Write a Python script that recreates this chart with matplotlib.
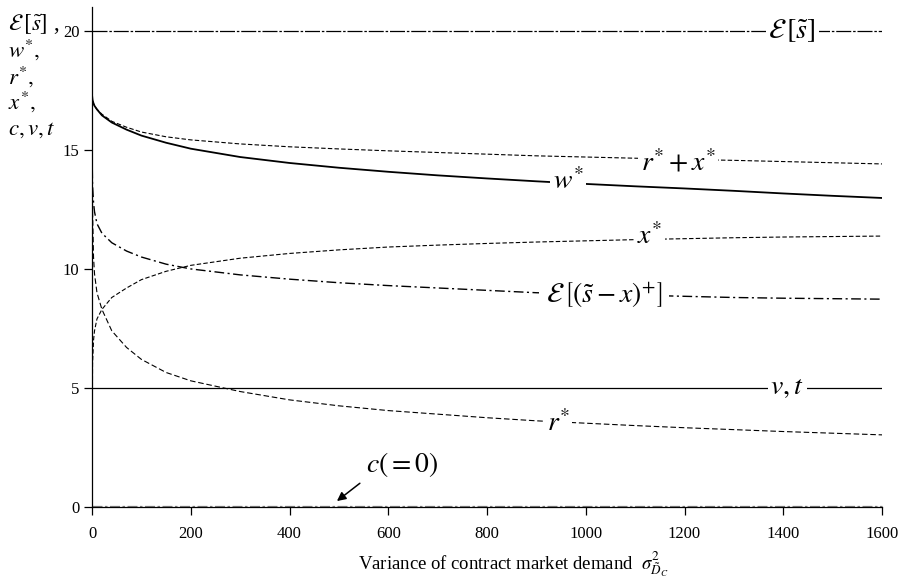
import matplotlib
matplotlib.use("Agg")
import matplotlib.pyplot as plt

plt.rcParams["font.family"] = ["Liberation Serif", "DejaVu Serif"]
plt.rcParams["mathtext.fontset"] = "stix"

# variance of contract market demand
variance = [0, 1, 3, 5, 10, 20, 40, 70, 100, 150, 200, 300, 400, 500, 600,
            700, 800, 900, 1000, 1100, 1200, 1300, 1400, 1500, 1600]

w_star = [17.3, 17.1, 16.95, 16.85, 16.7, 16.45, 16.15, 15.85, 15.6, 15.3, 15.05, 14.7,
          14.45, 14.25, 14.08, 13.93, 13.8, 13.68, 13.57, 13.47, 13.38, 13.28, 13.17,
          13.07, 12.98]
x_star = [0.0, 6.0, 7.0, 7.4, 7.9, 8.3, 8.8, 9.2, 9.55, 9.9, 10.15, 10.45, 10.65, 10.8,
          10.92, 11.0, 11.07, 11.13, 11.18, 11.23, 11.27, 11.31, 11.34, 11.36, 11.38]
r_star = [17.3, 12.5, 10.5, 9.8, 9.0, 8.3, 7.4, 6.7, 6.2, 5.65, 5.3, 4.85, 4.5, 4.25,
          4.05, 3.9, 3.75, 3.62, 3.52, 3.42, 3.33, 3.25, 3.17, 3.1, 3.03]
r_plus_x = [17.3, 17.1, 16.95, 16.85, 16.7, 16.5, 16.2, 15.95, 15.75, 15.55, 15.42, 15.25,
            15.13, 15.04, 14.96, 14.89, 14.82, 14.75, 14.7, 14.65, 14.6, 14.56, 14.51,
            14.46, 14.41]
exp_short = [15.0, 13.5, 12.8, 12.4, 11.9, 11.5, 11.1, 10.75, 10.5, 10.2, 10.0, 9.75,
             9.57, 9.42, 9.3, 9.2, 9.1, 9.0, 8.95, 8.9, 8.85, 8.8, 8.77, 8.75, 8.73]

exp_s = 20
v_t = 5
c_val = 0

fig = plt.figure(figsize=(9.05, 5.86), dpi=100)
ax = fig.add_axes([0.1017, 0.1348, 0.8729, 0.8532])

lab_fs = 20
box = dict(facecolor="white", edgecolor="none", pad=2)

# constant lines
ax.plot([0, 1600], [exp_s, exp_s], color="black", lw=0.9, dashes=(12, 1.5, 2, 1.5))
ax.plot([0, 1600], [v_t, v_t], color="black", lw=0.9)
ax.plot([0, 1600], [c_val + 0.05, c_val + 0.05], color="gray", lw=0.9,
        dashes=(8, 2, 2, 2), clip_on=False)

# curves
ax.plot(variance, r_plus_x, color="black", lw=0.8, dashes=(4, 2))
ax.plot(variance, w_star, color="black", lw=1.3)
ax.plot(variance, x_star, color="black", lw=0.8, dashes=(4, 2))
ax.plot(variance, exp_short, color="black", lw=1.0, dashes=(7, 2.5, 1.5, 2.5))
ax.plot(variance, r_star, color="black", lw=0.8, dashes=(5, 2.5))

# curve labels (white box cuts the line like in the original)
ax.text(1418, 20, r"$\mathcal{E}\,[\tilde{s}]$", fontsize=lab_fs, ha="center", va="center", bbox=box)
ax.text(1187, 14.45, r"$r^{*}+x^{*}$", fontsize=lab_fs, ha="center", va="center", bbox=box)
ax.text(964, 13.66, r"$w^{*}$", fontsize=lab_fs, ha="center", va="center", bbox=box)
ax.text(1130, 11.35, r"$x^{*}$", fontsize=lab_fs, ha="center", va="center", bbox=box)
ax.text(1037, 8.9, r"$\mathcal{E}\,\left[(\tilde{s}-x)^{+}\right]$", fontsize=lab_fs,
        ha="center", va="center", bbox=dict(facecolor="white", edgecolor="none", pad=5))
ax.text(1408, 5.0, r"$v, t$", fontsize=lab_fs, ha="center", va="center", bbox=box)
ax.text(944, 3.5, r"$r^{*}$", fontsize=lab_fs, ha="center", va="center", bbox=box)

ax.annotate(r"$c(=0)$", xy=(496, 0.25), xytext=(628, 1.8), fontsize=lab_fs,
            ha="center", va="center",
            arrowprops=dict(arrowstyle="-|>", color="black", lw=1.1,
                            shrinkA=3, shrinkB=0, mutation_scale=13,
                            relpos=(0.05, 0.1)))

ax.set_xlim(0, 1600)
ax.set_ylim(0, 21)
ax.set_xticks([0, 200, 400, 600, 800, 1000, 1200, 1400, 1600])
ax.set_yticks([0, 5, 10, 15, 20])
ax.tick_params(direction="out", length=6, width=0.9, labelsize=12)
ax.tick_params(axis="x", pad=8)
ax.tick_params(axis="y", pad=3)
for side in ["top", "right"]:
    ax.spines[side].set_visible(False)
for side in ["left", "bottom"]:
    ax.spines[side].set_linewidth(0.9)

# axis titles
ax.text(0.533, -0.115, r"Variance of contract market demand  $\sigma^{2}_{\tilde{D}_{C}}$",
        transform=ax.transAxes, fontsize=13.5, ha="center", va="center")
ylab_fs = 16.5
fig.text(0.009, 0.949, r"$\mathcal{E}\,[\tilde{s}]$ ,", fontsize=ylab_fs, va="baseline", ha="left")
fig.text(0.009, 0.903, r"$w^{*},$", fontsize=ylab_fs, va="baseline", ha="left")
fig.text(0.009, 0.858, r"$r^{*},$", fontsize=ylab_fs, va="baseline", ha="left")
fig.text(0.009, 0.814, r"$x^{*},$", fontsize=ylab_fs, va="baseline", ha="left")
fig.text(0.009, 0.770, r"$c, v, t$", fontsize=ylab_fs, va="baseline", ha="left")

fig.savefig("out.png", dpi=100)
